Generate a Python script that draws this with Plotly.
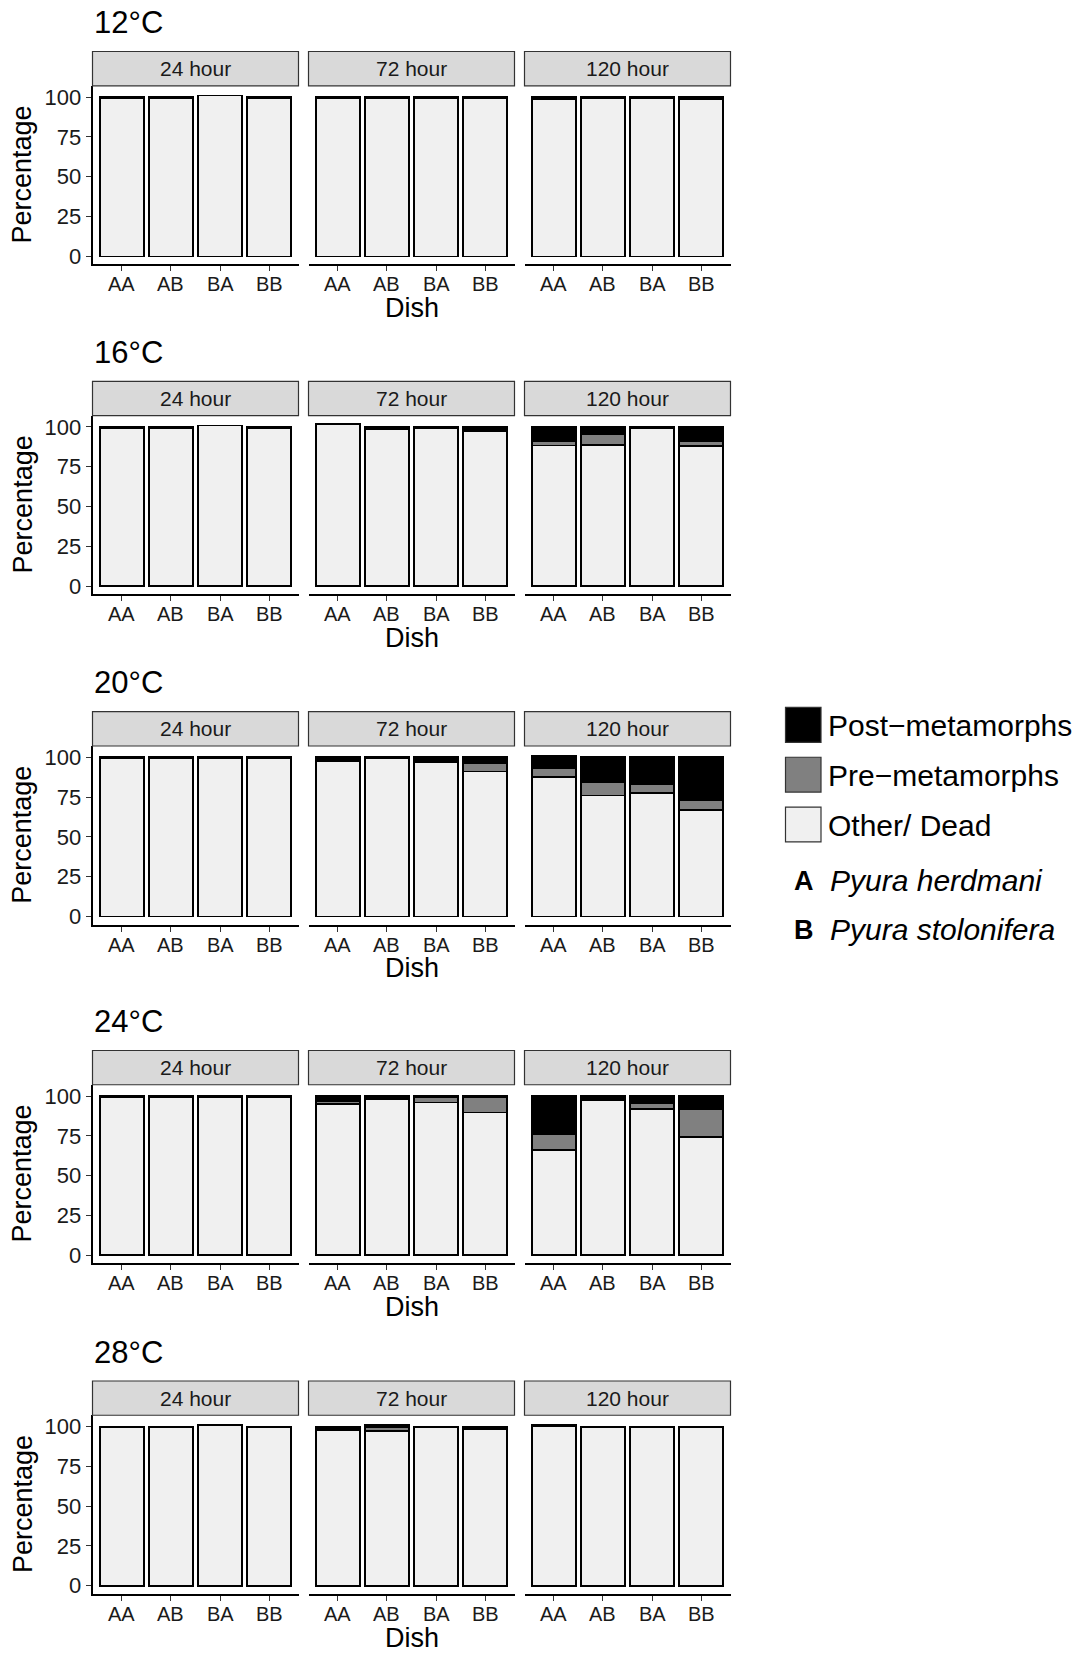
import plotly.graph_objects as go

# ---------------- data ----------------
dishes = ["AA", "AB", "BA", "BB"]
times = ["24 hour", "72 hour", "120 hour"]
temps = ["12°C", "16°C", "20°C", "24°C", "28°C"]
stages = ["Other/ Dead", "Pre\u2212metamorphs", "Post\u2212metamorphs"]
stage_colors = ["#F0F0F0", "#808080", "#000000"]
y_ticks = [0, 25, 50, 75, 100]
y_range = [-5.1, 107.1]

# each list: [24 hour, 72 hour, 120 hour], each with values for AA, AB, BA, BB
other_12 = [[99.3, 99.3, 101.0, 99.3], [99.3, 99.3, 99.3, 99.3], [98.6, 99.3, 99.3, 98.6]]
pre_12 = [[0, 0, 0, 0], [0, 0, 0, 0], [0, 0, 0, 0]]
post_12 = [[0.7, 0.7, 0, 0.7], [0.7, 0.7, 0.7, 0.7], [1.4, 0.7, 0.7, 1.4]]

other_16 = [[99.3, 99.3, 101.0, 99.3], [102.0, 98.3, 99.3, 97.5], [88.2, 88.7, 99.3, 87.9]]
pre_16 = [[0, 0, 0, 0], [0, 0, 0, 0], [3.0, 6.9, 0, 3.3]]
post_16 = [[0.7, 0.7, 0, 0.7], [0, 1.7, 0.7, 2.5], [8.8, 4.4, 0.7, 8.8]]

other_20 = [[99.3, 99.3, 99.3, 99.3], [97.3, 99.3, 96.8, 91.0], [87.5, 75.9, 77.5, 66.8]]
pre_20 = [[0, 0, 0, 0], [1.0, 0, 0.7, 5.0], [5.4, 8.2, 5.6, 6.2]]
post_20 = [[0.7, 0.7, 0.7, 0.7], [1.7, 0.7, 2.5, 4.0], [7.9, 15.9, 16.9, 27.0]]

other_24 = [[99.3, 99.3, 99.3, 99.3], [94.9, 98.2, 95.9, 89.6], [66.0, 97.1, 91.8, 74.2]]
pre_24 = [[0, 0, 0, 0], [1.8, 0, 3.3, 9.4], [10.0, 1.2, 3.7, 17.6]]
post_24 = [[0.7, 0.7, 0.7, 0.7], [3.3, 1.8, 0.8, 1.0], [24.0, 1.7, 4.5, 8.2]]

other_28 = [[99.3, 99.3, 101.0, 99.3], [97.4, 97.3, 99.3, 98.5], [100.0, 99.3, 99.3, 99.3]]
pre_28 = [[0, 0, 0, 0], [1.0, 2.0, 0, 0], [0, 0, 0, 0]]
post_28 = [[0.7, 0.7, 0, 0.7], [1.6, 2.1, 0.7, 1.5], [1.0, 0.7, 0.7, 0.7]]

other_all = [other_12, other_16, other_20, other_24, other_28]
pre_all = [pre_12, pre_16, pre_20, pre_24, pre_28]
post_all = [post_12, post_16, post_20, post_24, post_28]

species_codes = ["A", "B"]
species_names = ["Pyura herdmani", "Pyura stolonifera"]

# ---------------- layout geometry (pixels) ----------------
W, H = 1076, 1655
FONT = "Liberation Sans, Arial, Helvetica, sans-serif"
col_x0 = [92.5, 308.5, 524.5]
col_w = 206.0
row_top = [50.7, 381.7, 713.3, 1053.3, 1385.0]
strip_h = 34.4
plot_h = 179.3


def px(x):
    return x / W


def py(y):
    return 1 - y / H


fig = go.Figure()
layout = {}
shapes = []
annotations = []

n = 0
for r in range(5):
    series = [other_all[r], pre_all[r], post_all[r]]
    ptop = row_top[r] + strip_h
    pbot = ptop + plot_h
    for c in range(3):
        n += 1
        sfx = "" if n == 1 else str(n)
        x0 = col_x0[c]
        x1 = x0 + col_w
        layout["xaxis" + sfx] = dict(
            domain=[px(x0), px(x1)], anchor="y" + sfx, type="category",
            categoryorder="array", categoryarray=dishes, range=[-0.6, 3.6],
            showline=True, linecolor="#000000", linewidth=1.8,
            ticks="outside", ticklen=5, tickwidth=1.4, tickcolor="#333333",
            showticklabels=False,
            showgrid=False, zeroline=False, fixedrange=True,
        )
        layout["yaxis" + sfx] = dict(
            domain=[py(pbot), py(ptop)], anchor="x" + sfx, range=y_range,
            showgrid=False, zeroline=False, fixedrange=True,
            showline=(c == 0), linecolor="#000000", linewidth=1.8,
            tickvals=y_ticks,
            ticks="outside" if c == 0 else "", ticklen=5, tickwidth=1.4, tickcolor="#333333",
            showticklabels=(c == 0),
            tickfont=dict(family=FONT, size=22, color="#1a1a1a"),
        )
        for s in range(3):
            vals = [v if v > 0 else None for v in series[s][c]]
            fig.add_trace(go.Bar(
                x=dishes, y=vals, name=stages[s], xaxis="x" + sfx, yaxis="y" + sfx,
                width=0.9, showlegend=False,
                marker=dict(color=stage_colors[s], line=dict(color="#000000", width=1.6)),
            ))
        # x tick labels placed on the category axis
        for d in dishes:
            annotations.append(dict(xref="x" + sfx, yref="paper", x=d, y=py(pbot + 20),
                                    text=d, showarrow=False, xanchor="center", yanchor="middle",
                                    font=dict(family=FONT, size=20, color="#1a1a1a")))
        # facet strip
        shapes.append(dict(type="rect", xref="paper", yref="paper",
                           x0=px(x0), x1=px(x1), y0=py(ptop), y1=py(row_top[r]),
                           fillcolor="#D9D9D9", line=dict(color="#333333", width=1.2)))
        annotations.append(dict(xref="paper", yref="paper", x=px((x0 + x1) / 2),
                                y=py(row_top[r] + strip_h / 2), text=times[c], showarrow=False,
                                xanchor="center", yanchor="middle",
                                font=dict(family=FONT, size=21, color="#1a1a1a")))
    # row title
    annotations.append(dict(xref="paper", yref="paper", x=px(92), y=py(row_top[r] - 29),
                            text=temps[r], showarrow=False, xanchor="left", yanchor="middle",
                            font=dict(family=FONT, size=31, color="#000000")))
    # y title
    annotations.append(dict(xref="paper", yref="paper", x=px(22.5), y=py((ptop + pbot) / 2),
                            text="Percentage", showarrow=False, textangle=-90,
                            xanchor="center", yanchor="middle",
                            font=dict(family=FONT, size=27, color="#000000")))
    # x title
    annotations.append(dict(xref="paper", yref="paper", x=px(col_x0[1] + col_w / 2),
                            y=py(pbot + 44), text="Dish", showarrow=False,
                            xanchor="center", yanchor="middle",
                            font=dict(family=FONT, size=27, color="#000000")))

# ---------------- legend (drawn manually) ----------------
leg_order = [2, 1, 0]
leg_y0 = [709, 759, 809]
for k, s in enumerate(leg_order):
    shapes.append(dict(type="rect", xref="paper", yref="paper",
                       x0=px(785.5), x1=px(821), y0=py(leg_y0[k] + 35), y1=py(leg_y0[k]),
                       fillcolor=stage_colors[s], line=dict(color="#333333", width=1.2)))
    annotations.append(dict(xref="paper", yref="paper", x=px(826), y=py(leg_y0[k] + 18),
                            text=stages[s], showarrow=False, xanchor="left", yanchor="middle",
                            font=dict(family=FONT, size=30, color="#000000")))
sp_y = [883, 932]
for k in range(2):
    annotations.append(dict(xref="paper", yref="paper", x=px(792), y=py(sp_y[k]),
                            text="<b>%s</b>" % species_codes[k], showarrow=False,
                            xanchor="left", yanchor="middle",
                            font=dict(family=FONT, size=27, color="#000000")))
    annotations.append(dict(xref="paper", yref="paper", x=px(828), y=py(sp_y[k]),
                            text="<i>%s</i>" % species_names[k], showarrow=False,
                            xanchor="left", yanchor="middle",
                            font=dict(family=FONT, size=30, color="#000000")))

fig.update_layout(
    width=W, height=H, autosize=False,
    margin=dict(l=0, r=0, t=0, b=0),
    paper_bgcolor="white", plot_bgcolor="white",
    barmode="stack", bargap=0.1,
    shapes=shapes, annotations=annotations,
    font=dict(family=FONT),
    **layout,
)

fig.write_html("out.html", config={"displayModeBar": False},
               post_script="document.body.style.margin='0px';")
